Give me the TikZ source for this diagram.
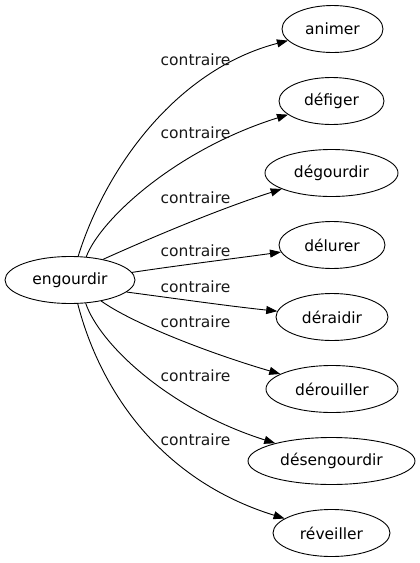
\documentclass[tikz,border=0pt]{standalone}
\usepackage{fontspec}
\setmainfont{DejaVu Sans}
\usetikzlibrary{shapes.geometric,arrows.meta}
\begin{document}
\begin{tikzpicture}[x=1pt,y=-1pt,
  word/.style={ellipse,draw=black,line width=0.9pt,inner sep=0pt,minimum height=47pt,font=\fontsize{15.5}{18}\selectfont},
  rel/.style={font=\fontsize{15.5}{18}\selectfont,anchor=base,inner sep=0pt,text=black!90},
  edge/.style={draw=black,line width=0.9pt,-{Triangle[length=11pt,width=8pt]}}]
\useasboundingbox (0,0) rectangle (420,563);
\node[word,minimum width=130pt] (eng) at (70,280) {engourdir};
\node[word,minimum width=101pt] (n1) at (332.5,29) {animer};
\node[word,minimum width=105pt] (n2) at (331.5,101) {défiger};
\node[word,minimum width=133pt] (n3) at (331.5,173) {dégourdir};
\node[word,minimum width=106pt] (n4) at (332,245) {délurer};
\node[word,minimum width=112pt] (n5) at (332,317) {déraidir};
\node[word,minimum width=132pt] (n6) at (332,389) {dérouiller};
\node[word,minimum width=167pt] (n7) at (331.5,461) {désengourdir};
\node[word,minimum width=117pt] (n8) at (331.5,533) {réveiller};
\draw[edge] (eng.71) .. controls (105,170) and (175,70) .. (n1);
\draw[edge] (eng.55) .. controls (100,220) and (175,150) .. (n2);
\draw[edge] (eng.32) .. controls (135,245) and (210,212) .. (n3);
\draw[edge] (eng.7) .. controls (181,265) and (231,259) .. (n4);
\draw[edge] (eng.-12) .. controls (179,299) and (228,306) .. (n5);
\draw[edge] (eng.-34) .. controls (135,325) and (215,355) .. (n6);
\draw[edge] (eng.-56) .. controls (100,345) and (170,410) .. (n7);
\draw[edge] (eng.-72) .. controls (100,390) and (160,480) .. (n8);
\node[rel] (l1) at (195.5,65) {contraire};
\node[rel] (l2) at (195.5,138) {contraire};
\node[rel] (l3) at (195.5,203) {contraire};
\node[rel] (l4) at (195.5,256) {contraire};
\node[rel] (l5) at (195.5,292) {contraire};
\node[rel] (l6) at (195.5,327) {contraire};
\node[rel] (l7) at (195.5,381) {contraire};
\node[rel] (l8) at (195.5,445) {contraire};
\end{tikzpicture}
\end{document}
